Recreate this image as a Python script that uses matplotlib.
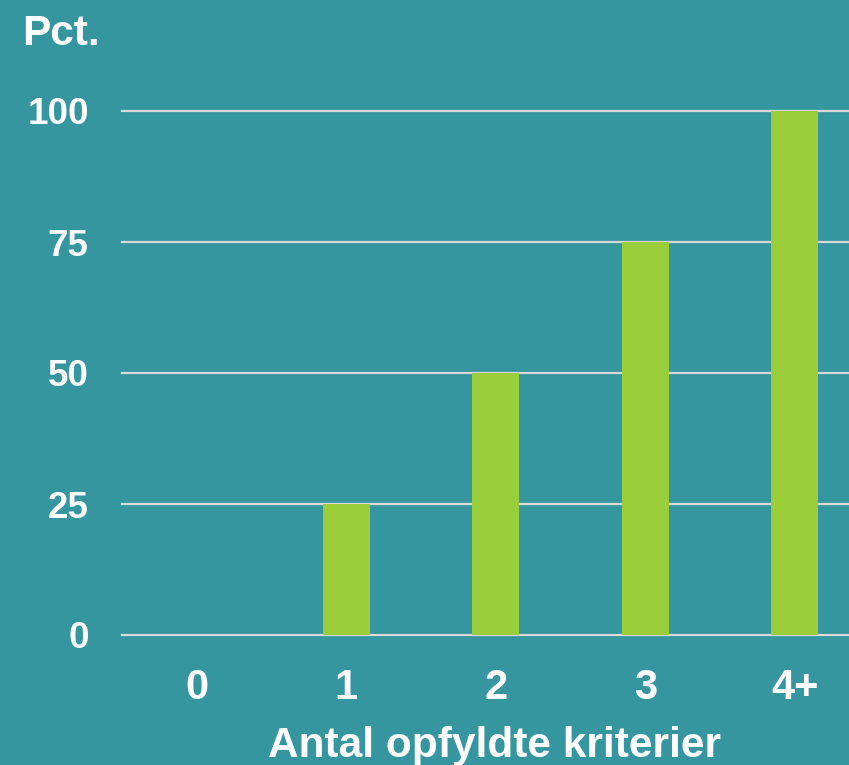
import matplotlib.pyplot as plt

# Data
kategorier = ['0', '1', '2', '3', '4+']
pct = [0, 25, 50, 75, 100]
y_ticks = [0, 25, 50, 75, 100]

bg = '#3596A0'
bar_color = '#9ACD3A'
grid_color = '#D9D9D9'

plt.rcParams['font.family'] = ['Liberation Sans', 'DejaVu Sans']
plt.rcParams['font.weight'] = 'bold'

fig = plt.figure(figsize=(8.49, 7.65), dpi=100, facecolor=bg)
ax = fig.add_axes([122 / 849, 1 - 635 / 765, (849 - 122) / 849, (635 - 111) / 765])
ax.set_facecolor(bg)

x = range(len(kategorier))
ax.bar(x, pct, width=0.315, color=bar_color, zorder=3)

ax.set_ylim(0, 100)
ax.set_xlim(-0.5, 4.363)
ax.set_yticks(y_ticks)
ax.set_yticklabels([str(v) for v in y_ticks])
ax.set_xticks(list(x))
ax.set_xticklabels(kategorier)

for v in y_ticks:
    ax.axhline(v, color=grid_color, linewidth=1.6, zorder=1, clip_on=False)

for s in ax.spines.values():
    s.set_visible(False)

ax.tick_params(axis='y', length=0, pad=24, labelsize=26.5, labelcolor='white')
ax.tick_params(axis='x', length=0, pad=24, labelsize=30, labelcolor='white')
for lbl in ax.get_xticklabels() + ax.get_yticklabels():
    lbl.set_fontweight('bold')

fig.text(22 / 849, 1 - 45 / 765, 'Pct.', color='white', fontsize=30.5,
         fontweight='bold', ha='left', va='baseline')
fig.text(494 / 849, 1 - 757 / 765, 'Antal opfyldte kriterier', color='white',
         fontsize=30.5, fontweight='bold', ha='center', va='baseline')

fig.savefig('out.png', dpi=100, facecolor=bg)
